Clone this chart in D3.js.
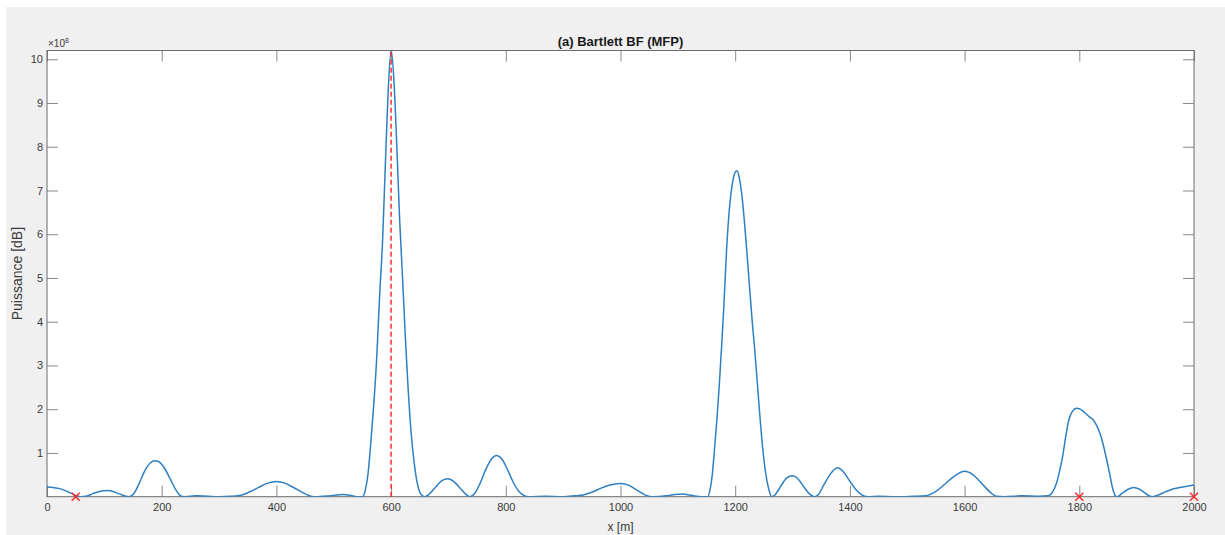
<!DOCTYPE html>
<html>
<head>
<meta charset="utf-8">
<script src="https://cdn.jsdelivr.net/npm/d3@7"></script>
<style>
  html, body { margin: 0; padding: 0; background: #ffffff; }
  svg { display: block; font-family: "Liberation Sans", Arial, Helvetica, sans-serif; }
</style>
</head>
<body>
<svg id="chart" width="1225" height="535"></svg>
<script>
// Bartlett beamformer output along x (matched-field processing)
const xPos = [
  0, 10, 20, 30, 40, 50, 58, 68, 80, 95, 105, 115, 125, 135, 142, 150, 160, 170, 180, 188,
  195, 205, 215, 225, 233, 240, 260, 280, 300, 320, 340, 355, 370, 385, 400, 415, 430, 445, 458, 465,
  480, 500, 515, 530, 540, 550, 555, 560, 565, 570, 575, 580, 585, 590, 595, 600, 605, 610, 615, 620,
  625, 630, 635, 640, 645, 650, 655, 658, 665, 675, 688, 699, 710, 720, 730, 737, 745, 755, 765, 775,
  784, 793, 803, 813, 823, 833, 840, 870, 900, 920, 935, 950, 965, 980, 1000, 1015, 1030, 1045, 1055, 1080,
  1095, 1108, 1120, 1132, 1140, 1146, 1152, 1156, 1160, 1164, 1168, 1172, 1176, 1180, 1185, 1190, 1195, 1200, 1203, 1207,
  1212, 1216, 1220, 1225, 1230, 1234, 1238, 1243, 1248, 1253, 1258, 1264, 1270, 1280, 1290, 1300, 1310, 1320, 1330, 1338,
  1345, 1355, 1365, 1378, 1390, 1400, 1410, 1420, 1431, 1450, 1480, 1510, 1532, 1550, 1565, 1580, 1600, 1615, 1630, 1645,
  1655, 1670, 1700, 1730, 1745, 1752, 1760, 1765, 1771, 1776, 1782, 1788, 1795, 1800, 1806, 1812, 1818, 1824, 1829, 1834,
  1838, 1843, 1849, 1854, 1858, 1863, 1866, 1875, 1885, 1895, 1905, 1915, 1922, 1928, 1938, 1950, 1962, 1975, 1988, 2000
];
const power = [
  0.22, 0.21, 0.19, 0.15, 0.09, 0.03, 0.0, 0.01, 0.07, 0.13, 0.14, 0.12, 0.07, 0.02, 0.0, 0.05, 0.28, 0.58, 0.77, 0.82,
  0.80, 0.65, 0.40, 0.15, 0.02, 0.0, 0.02, 0.01, 0.0, 0.01, 0.04, 0.12, 0.22, 0.31, 0.35, 0.31, 0.21, 0.10, 0.02, 0.0,
  0.01, 0.03, 0.05, 0.03, 0.0, 0.0, 0.15, 0.55, 1.3, 2.15, 3.2, 4.6, 5.8, 7.6, 9.3, 10.2, 9.5, 8.0, 6.3, 5.0,
  3.6, 2.4, 1.45, 0.8, 0.35, 0.1, 0.02, 0.0, 0.04, 0.18, 0.36, 0.41, 0.34, 0.20, 0.06, 0.0, 0.06, 0.30, 0.62, 0.86,
  0.94, 0.86, 0.62, 0.33, 0.12, 0.02, 0.0, 0.01, 0.0, 0.02, 0.04, 0.10, 0.19, 0.26, 0.30, 0.26, 0.14, 0.03, 0.0, 0.02,
  0.05, 0.06, 0.04, 0.01, 0.0, 0.0, 0.0, 0.15, 0.5, 1.1, 1.75, 2.5, 3.37, 4.3, 5.65, 6.6, 7.15, 7.42, 7.45, 7.3,
  6.85, 6.3, 5.65, 4.8, 3.95, 3.37, 2.7, 1.85, 1.1, 0.55, 0.2, 0.0, 0.05, 0.25, 0.43, 0.48, 0.40, 0.22, 0.06, 0.0,
  0.05, 0.28, 0.50, 0.66, 0.55, 0.35, 0.17, 0.05, 0.0, 0.01, 0.0, 0.01, 0.02, 0.12, 0.28, 0.45, 0.58, 0.50, 0.30, 0.10,
  0.01, 0.0, 0.02, 0.01, 0.02, 0.08, 0.30, 0.55, 0.92, 1.35, 1.77, 1.95, 2.02, 2.01, 1.96, 1.89, 1.82, 1.76, 1.66, 1.52,
  1.37, 1.12, 0.77, 0.45, 0.20, 0.02, 0.0, 0.08, 0.17, 0.21, 0.17, 0.08, 0.02, 0.0, 0.04, 0.11, 0.17, 0.21, 0.24, 0.27
];

// Estimated source position (dashed marker) and sensor positions (crosses)
const sourceX = [600];
const sensorX = [50, 1800, 2000];

const xTicks = [0, 200, 400, 600, 800, 1000, 1200, 1400, 1600, 1800, 2000];
const yTicks = [1, 2, 3, 4, 5, 6, 7, 8, 9, 10];

const titleText = "(a) Bartlett BF (MFP)";
const xLabel = "x [m]";
const yLabel = "Puissance [dB]";
const yExponent = "8";

const svg = d3.select("#chart");
const W = 1225, H = 535;
const plot = { left: 47, right: 1194, top: 50.5, bottom: 496.7 };

// figure background
svg.append("rect").attr("x", 0).attr("y", 0).attr("width", W).attr("height", H).attr("fill", "#ffffff");
svg.append("rect").attr("x", 6).attr("y", 7).attr("width", W - 6).attr("height", H - 7).attr("fill", "#f0f0f0");

const x = d3.scaleLinear().domain([0, 2000]).range([plot.left, plot.right]);
const y = d3.scaleLinear().domain([0, 10.2]).range([plot.bottom, plot.top]);

// axes background
svg.append("rect")
  .attr("x", plot.left).attr("y", plot.top)
  .attr("width", plot.right - plot.left).attr("height", plot.bottom - plot.top)
  .attr("fill", "#ffffff");

svg.append("clipPath").attr("id", "clip")
  .append("rect")
  .attr("x", plot.left).attr("y", plot.top - 1)
  .attr("width", plot.right - plot.left).attr("height", plot.bottom - plot.top + 1);

const axisColor = "#6b6b6b";
const textColor = "#3a3a3a";
const tickLen = 11;

// inward ticks on all four sides
function styleAxis(g) {
  g.select(".domain").remove();
  g.selectAll(".tick line").attr("stroke", axisColor).attr("stroke-width", 0.8);
  g.selectAll(".tick text").attr("fill", textColor).style("font-size", "11px")
    .style("font-family", '"Liberation Sans", Arial, sans-serif');
}

svg.append("g")
  .attr("transform", `translate(0,${plot.bottom})`)
  .call(d3.axisBottom(x).tickValues(xTicks).tickSizeInner(-tickLen).tickSizeOuter(0).tickPadding(7).tickFormat(d3.format("d")))
  .call(styleAxis);

svg.append("g")
  .attr("transform", `translate(0,${plot.top})`)
  .call(d3.axisTop(x).tickValues(xTicks).tickSizeInner(-tickLen).tickSizeOuter(0).tickFormat(""))
  .call(styleAxis);

svg.append("g")
  .attr("transform", `translate(${plot.left},0)`)
  .call(d3.axisLeft(y).tickValues(yTicks).tickSizeInner(-tickLen).tickSizeOuter(0).tickPadding(4).tickFormat(d3.format("d")))
  .call(styleAxis);

svg.append("g")
  .attr("transform", `translate(${plot.right},0)`)
  .call(d3.axisRight(y).tickValues(yTicks).tickSizeInner(-tickLen).tickSizeOuter(0).tickFormat(""))
  .call(styleAxis);

// axes box
svg.append("rect")
  .attr("x", plot.left).attr("y", plot.top)
  .attr("width", plot.right - plot.left).attr("height", plot.bottom - plot.top)
  .attr("fill", "none").attr("stroke", axisColor).attr("stroke-width", 1);

// beamformer output curve
const series = xPos.map((d, i) => ({ x: d, v: power[i] }));
const line = d3.line()
  .x(d => x(d.x))
  .y(d => y(d.v))
  .curve(d3.curveMonotoneX);

svg.append("path")
  .datum(series)
  .attr("clip-path", "url(#clip)")
  .attr("fill", "none")
  .attr("stroke", "#2f7fc1")
  .attr("stroke-width", 1.5)
  .attr("stroke-linejoin", "round")
  .attr("d", line);

// dashed line at the estimated source position
svg.selectAll(".src")
  .data(sourceX)
  .enter().append("line")
  .attr("class", "src")
  .attr("x1", d => x(d)).attr("x2", d => x(d))
  .attr("y1", y(0)).attr("y2", y(10.2))
  .attr("stroke", "#ff2020")
  .attr("stroke-width", 1.4)
  .attr("stroke-dasharray", "5,3");

// sensor crosses on the x axis
const cross = svg.selectAll(".sensor")
  .data(sensorX)
  .enter().append("g")
  .attr("class", "sensor")
  .attr("transform", d => `translate(${x(d)},${y(0)})`);
const s = 4;
cross.append("line").attr("x1", -s).attr("y1", -s).attr("x2", s).attr("y2", s)
  .attr("stroke", "#ff2020").attr("stroke-width", 1.4);
cross.append("line").attr("x1", -s).attr("y1", s).attr("x2", s).attr("y2", -s)
  .attr("stroke", "#ff2020").attr("stroke-width", 1.4);

// exponent label above the y axis
const expText = svg.append("text")
  .attr("x", plot.left + 1).attr("y", plot.top - 4)
  .attr("fill", textColor)
  .style("font-size", "10px");
expText.append("tspan").text("\u00d710");
expText.append("tspan").attr("dy", -4).style("font-size", "7px").text(yExponent);

// title
svg.append("text")
  .attr("x", (plot.left + plot.right) / 2).attr("y", 46)
  .attr("text-anchor", "middle")
  .attr("fill", "#1a1a1a")
  .style("font-size", "13px").style("font-weight", "bold")
  .text(titleText);

// axis labels
svg.append("text")
  .attr("x", (plot.left + plot.right) / 2).attr("y", 531)
  .attr("text-anchor", "middle")
  .attr("fill", textColor)
  .style("font-size", "12px")
  .text(xLabel);

svg.append("text")
  .attr("transform", `translate(22,${(plot.top + plot.bottom) / 2}) rotate(-90)`)
  .attr("text-anchor", "middle")
  .attr("fill", textColor)
  .style("font-size", "14px")
  .text(yLabel);
</script>
</body>
</html>
